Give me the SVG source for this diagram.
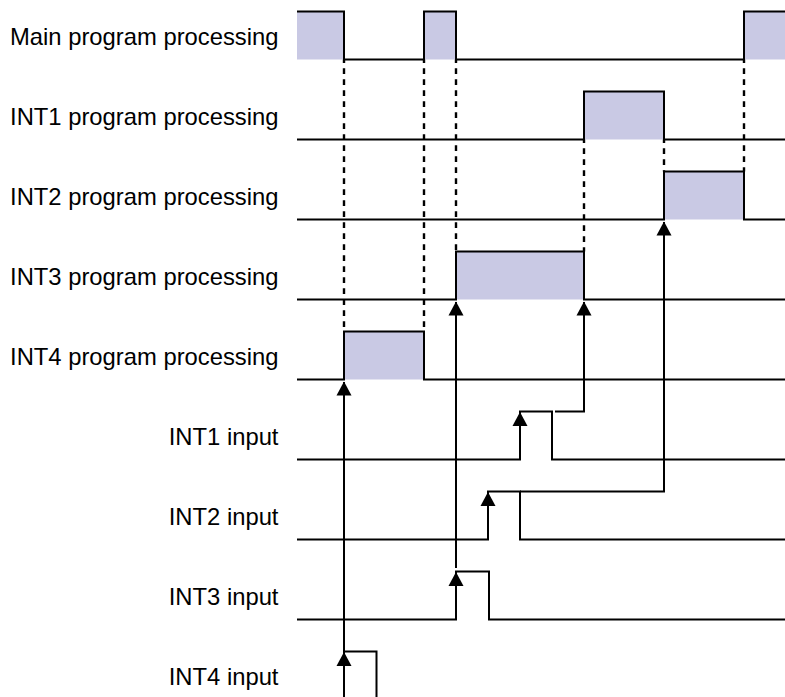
<svg xmlns="http://www.w3.org/2000/svg" xmlns:xlink="http://www.w3.org/1999/xlink" width="785" height="697" viewBox="0 0 785 697">
<style>
.lbl{font-family:"Liberation Sans",Arial,sans-serif;font-size:23.8px;fill:#000;text-anchor:end}
.sig{fill:none;stroke:#000;stroke-width:2}
.pf{fill:#c9c9e4;stroke:none}
.dash{fill:none;stroke:#000;stroke-width:2.4;stroke-dasharray:5.6 5.4;stroke-dashoffset:2.2}
.con{fill:none;stroke:#000;stroke-width:2}
.ah{fill:#000}
</style>
<defs>
<path id="ah" d="M0,0 L7.5,14 L-7.5,14 Z"/>
</defs>
<rect width="785" height="697" fill="#fff"/>

<g id="main">
<text class="lbl" x="278.5" y="44.5">Main program processing</text>
<rect class="pf" x="297" y="11.5" width="47" height="48"/>
<rect class="pf" x="424" y="11.5" width="32" height="48"/>
<rect class="pf" x="744" y="11.5" width="41" height="48"/>
<path class="sig" d="M297,11.5 H344 V59.5 H424 V11.5 H456 V59.5 H744 V11.5 H785"/>
</g>

<g id="int1">
<text class="lbl" x="278.5" y="124.5">INT1 program processing</text>
<rect class="pf" x="584" y="91.5" width="80" height="48"/>
<path class="sig" d="M297,139.5 H584 V91.5 H664 V139.5 H785"/>
</g>

<g id="int2">
<text class="lbl" x="278.5" y="204.5">INT2 program processing</text>
<rect class="pf" x="664" y="171.5" width="80" height="48"/>
<path class="sig" d="M297,219.5 H664 V171.5 H744 V219.5 H785"/>
</g>

<g id="int3">
<text class="lbl" x="278.5" y="284.5">INT3 program processing</text>
<rect class="pf" x="456" y="251.5" width="128" height="48"/>
<path class="sig" d="M297,299.5 H456 V251.5 H584 V299.5 H785"/>
</g>

<g id="int4">
<text class="lbl" x="278.5" y="364.5">INT4 program processing</text>
<rect class="pf" x="344" y="331.5" width="80" height="48"/>
<path class="sig" d="M297,379.5 H344 V331.5 H424 V379.5 H785"/>
</g>

<g id="int1in">
<text class="lbl" x="278.5" y="444.5">INT1 input</text>
<path class="sig" d="M297,459.5 H520 V411.5 H552 V459.5 H785"/>
</g>

<g id="int2in">
<text class="lbl" x="278.5" y="524.5">INT2 input</text>
<path class="sig" d="M297,539.5 H488 V491.5 H520 V539.5 H785"/>
</g>

<g id="int3in">
<text class="lbl" x="278.5" y="604.5">INT3 input</text>
<path class="sig" d="M297,619.5 H456 V571.5 H489 V619.5 H785"/>
</g>

<g id="int4in">
<text class="lbl" x="278.5" y="684.5">INT4 input</text>
<path class="sig" d="M297,699.5 H344 V651.5 H376.5 V699.5 H785"/>
</g>

<g id="connectors">
<path class="dash" d="M344,59.5 V331.5"/>
<path class="dash" d="M424,59.5 V331.5"/>
<path class="dash" d="M456,59.5 V251.5"/>
<path class="dash" d="M584,139.5 V251.5"/>
<path class="dash" d="M664,139.5 V171.5"/>
<path class="dash" d="M744,59.5 V171.5"/>

<path class="con" d="M344,651.5 V382"/>
<path class="con" d="M456,568 V302"/>
<path class="con" d="M555,411.5 H584 V302"/>
<path class="con" d="M520,491.5 H664 V222"/>

<use class="ah" xlink:href="#ah" x="344" y="381.5"/>
<use class="ah" xlink:href="#ah" x="456" y="301.5"/>
<use class="ah" xlink:href="#ah" x="584" y="301.5"/>
<use class="ah" xlink:href="#ah" x="664" y="221.5"/>

<use class="ah" xlink:href="#ah" x="520" y="412"/>
<use class="ah" xlink:href="#ah" x="488" y="492"/>
<use class="ah" xlink:href="#ah" x="456" y="572"/>
<use class="ah" xlink:href="#ah" x="344" y="652"/>
</g>
</svg>
